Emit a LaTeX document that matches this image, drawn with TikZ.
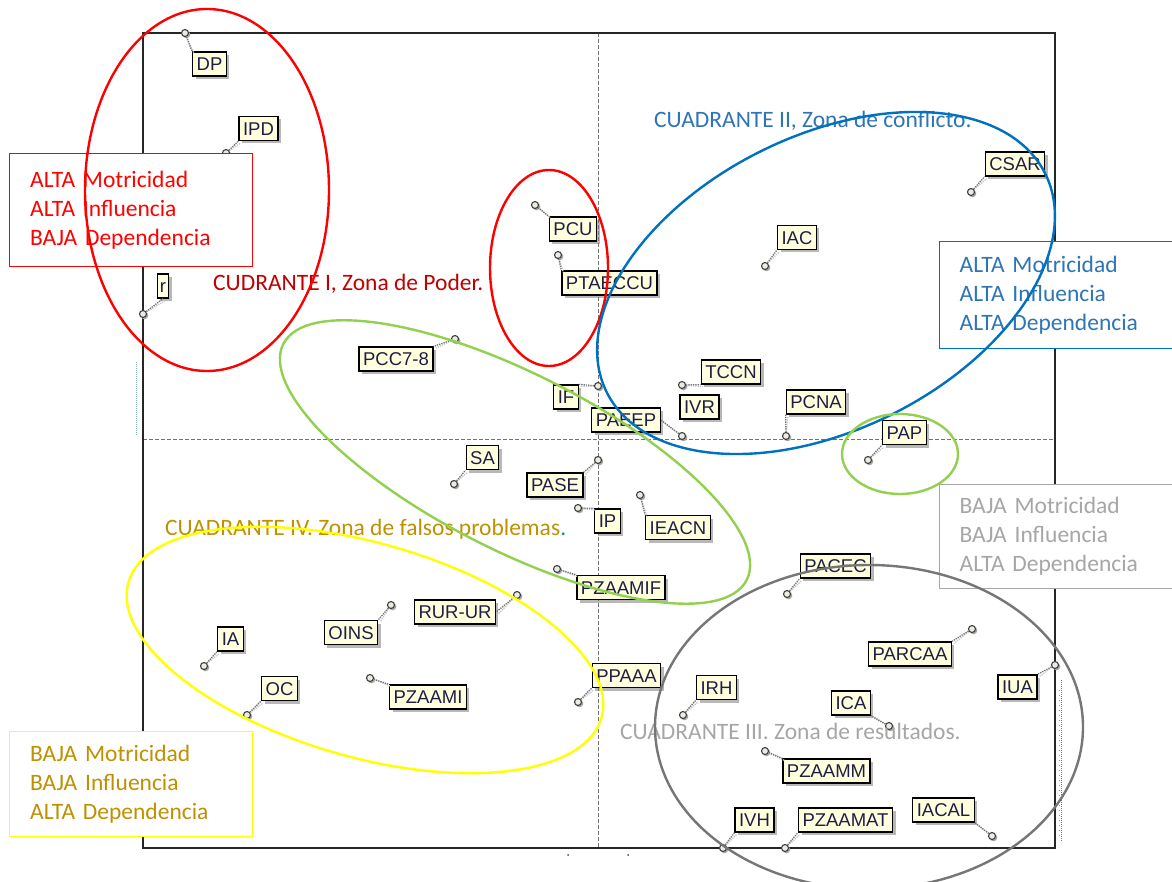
\documentclass[tikz,border=0pt]{standalone}
\usepackage{fontspec}
\setmainfont{Carlito}
\newfontfamily\arialf{Liberation Sans}
\usetikzlibrary{shadows}
\definecolor{cream}{RGB}{255,255,221}
\definecolor{lbltext}{RGB}{30,30,70}
\definecolor{redA}{RGB}{255,0,0}
\definecolor{redD}{RGB}{192,0,0}
\definecolor{blueE}{RGB}{0,112,192}
\definecolor{blueT}{RGB}{46,117,182}
\definecolor{greenE}{RGB}{146,208,80}
\definecolor{yellowE}{RGB}{255,255,0}
\definecolor{goldT}{RGB}{191,144,0}
\definecolor{grayE}{RGB}{118,118,118}
\definecolor{grayT}{RGB}{166,166,166}
\definecolor{tealdot}{RGB}{0,160,120}
\tikzset{
  lbl/.style={draw=black, line width=1.3pt, fill=cream, text=lbltext,
    font=\arialf\fontsize{18.5}{18.5}\selectfont, inner xsep=4pt, inner ysep=0pt,
    text height=13.5pt, text depth=0pt, minimum height=24pt,
    drop shadow={shadow xshift=3pt, shadow yshift=-3pt, fill=black!55, opacity=0.5}},
  pt/.style={circle, draw=black!75, line width=1.1pt, fill=cream!60!gray!40, inner sep=0pt, minimum size=7pt},
  lead/.style={densely dotted, line width=1.3pt, black!55},
  leadsh/.style={densely dotted, line width=1.3pt, black!22},
  axisline/.style={dashed, line width=0.8pt, black!55, dash pattern=on 4pt off 2pt},
  zonebox/.style={fill=white, line width=1.3pt, inner xsep=20.5pt, inner ysep=0pt,
    font=\fontsize{23.5}{29}\selectfont, anchor=north west},
  zonetxt/.style={font=\fontsize{23.5}{28}\selectfont, anchor=west, inner sep=0pt},
  zone/.style={line width=2.4pt}
}
\newcommand{\leader}[2]{%
  \draw[leadsh] ([shift={(2pt,-2pt)}]#1) -- ([shift={(2pt,-2pt)}]#2);
  \draw[lead] (#1) -- (#2);}
\begin{document}
\begin{tikzpicture}[x=1pt,y=-1pt]
\useasboundingbox (0,0) rectangle (1172,882);
\fill[white] (0,0) rectangle (1172,882);

% frame and the two axes
\draw[axisline] (598,33) -- (598,848);
\draw[axisline] (143,439) -- (1055,439);
\draw[line width=1.5pt, black!85] (143,33) rectangle (1055,848);
% small marks along the frame
\draw[blueT!60, densely dotted, line width=1pt] (136,362) -- (136,436);
\draw[redD!70, densely dotted, line width=1pt] (1061,680) -- (1061,842);
\draw[blueE!60, loosely dotted, line width=1pt] (1059,690) -- (1059,840);
\fill[black!70] (568,855) circle (1pt) (628,855) circle (1pt);

% variable points
\foreach \n/\x/\y in {DP/185/33, IPD/226/153, r/143/314, PCU/535/205, PTAECCU/558/255,
  PCC78/455/339, IF/598/386, PAEEP/682/436, TCCN/682/385, PCNA/786/436, PAP/868/460,
  CSAR/971/192, IAC/765/266, SA/454/484, PASE/598/460, IP/578/508, IEACN/640/495,
  PZAAMIF/557/569, RURUR/517/595, OINS/391/605, IA/204/666, OC/247/715, PZAAMI/370/678,
  PPAAA/578/702, IRH/683/715, PACEC/787/594, PARCAA/972/629, IUA/1055/665, ICA/889/726,
  PZAAMM/765/751, IVH/723/848, PZAAMAT/785/848, IACAL/992/836}
{
  \fill[black!35] (\x+1.5,\y+1.5) circle (3.8pt);
  \node[pt] (p\n) at (\x,\y) {};
}

% variable labels
\node[lbl] (DP) at (209.5,64) {DP};
\node[lbl] (IPD) at (258.5,128.5) {IPD};
\node[lbl, inner xsep=2.5pt] (r) at (163,286) {r};
\node[lbl] (PCU) at (573,229) {PCU};
\node[lbl] (PTAECCU) at (609.5,283) {PTAECCU};
\node[lbl] (PCC78) at (396,359) {PCC7-8};
\node[lbl] (IF) at (566,397) {IF};
\node[lbl] (PAEEP) at (626,420) {PAEEP};
\node[lbl] (TCCN) at (731,372) {TCCN};
\node[lbl] (IVR) at (699.5,407) {IVR};
\node[lbl] (PCNA) at (816,402) {PCNA};
\node[lbl] (PAP) at (904.5,432.5) {PAP};
\node[lbl] (CSAR) at (1015,164) {CSAR};
\node[lbl] (IAC) at (797,237.5) {IAC};
\node[lbl] (SA) at (482.5,457.5) {SA};
\node[lbl] (PASE) at (555,485) {PASE};
\node[lbl] (IP) at (607.5,521) {IP};
\node[lbl] (IEACN) at (678,527.5) {IEACN};
\node[lbl] (PZAAMIF) at (621,587.5) {PZAAMIF};
\node[lbl] (RURUR) at (455,612) {RUR-UR};
\node[lbl] (OINS) at (351,632.5) {OINS};
\node[lbl] (IA) at (230.5,639) {IA};
\node[lbl] (OC) at (279.5,688.5) {OC};
\node[lbl] (PZAAMI) at (428,697) {PZAAMI};
\node[lbl] (PPAAA) at (626.5,675.5) {PPAAA};
\node[lbl] (IRH) at (716.5,687.5) {IRH};
\node[lbl] (PACEC) at (835.5,566) {PACEC};
\node[lbl] (PARCAA) at (910,654) {PARCAA};
\node[lbl] (IUA) at (1017.5,687) {IUA};
\node[lbl] (ICA) at (851,703) {ICA};
\node[lbl] (PZAAMM) at (826.5,771) {PZAAMM};
\node[lbl] (IVH) at (754.5,820) {IVH};
\node[lbl] (PZAAMAT) at (845.5,820) {PZAAMAT};
\node[lbl] (IACAL) at (943.5,810) {IACAL};

% dotted leaders from each point to its label
\leader{pDP}{DP.north west}
\leader{pIPD}{IPD.south west}
\leader{pr}{r.south}
\leader{pPCU}{PCU.north west}
\leader{pPTAECCU}{PTAECCU.north west}
\leader{pPCC78}{PCC78.north east}
\leader{pIF}{IF.north east}
\leader{pPAEEP}{PAEEP.east}
\leader{pTCCN}{TCCN.south west}
\leader{pPCNA}{PCNA.south west}
\leader{pPAP}{PAP.south west}
\leader{pCSAR}{CSAR.south west}
\leader{pIAC}{IAC.south west}
\leader{pSA}{SA.south west}
\leader{pPASE}{PASE.north east}
\leader{pIP}{IP.north west}
\leader{pIEACN}{IEACN.north west}
\leader{pPZAAMIF}{PZAAMIF.north west}
\leader{pRURUR}{RURUR.east}
\leader{pOINS}{OINS.north east}
\leader{pIA}{IA.south west}
\leader{pOC}{OC.south west}
\leader{pPZAAMI}{PZAAMI.north west}
\leader{pPPAAA}{PPAAA.south west}
\leader{pIRH}{IRH.south west}
\leader{pPACEC}{PACEC.south west}
\leader{pPARCAA}{PARCAA.north east}
\leader{pIUA}{IUA.north east}
\leader{pICA}{ICA.south east}
\leader{pPZAAMM}{PZAAMM.north west}
\leader{pIVH}{IVH.south west}
\leader{pPZAAMAT}{PZAAMAT.south west}
\leader{pIACAL}{IACAL.south east}

% legend boxes of the quadrants
\node[zonebox, draw=redA, text=redA, text width=202pt, minimum height=113pt] (bI) at (9,153)
  {ALTA Motricidad\\ALTA Influencia\\BAJA Dependencia};
\node[zonebox, inner xsep=20pt, draw=blueE, text=blueT, text width=200pt, minimum height=107pt] (bII) at (939,241)
  {ALTA Motricidad\\ALTA Influencia\\ALTA Dependencia};
\node[zonebox, inner xsep=20pt, draw=grayT, text=grayT, text width=200pt, minimum height=104pt] (bIII) at (939,484)
  {BAJA Motricidad\\BAJA Influencia\\ALTA Dependencia};
\node[zonebox, draw=yellowE, text=goldT, text width=202pt, minimum height=105pt] (bIV) at (9,731)
  {BAJA Motricidad\\BAJA Influencia\\ALTA Dependencia};

% quadrant titles
\node[zonetxt, text=blueT] (tII) at (654,121) {CUADRANTE II, Zona de conflicto.};
\node[zonetxt, text=redD] (tI) at (213,284) {CUDRANTE I, Zona de Poder.};
\node[zonetxt, text=goldT] (tIV) at (165,529) {CUADRANTE IV. Zona de falsos problemas\textcolor{tealdot}{.}};
\node[zonetxt, text=grayT] (tIII) at (620,731) {CUADRANTE III. Zona de resultados.};

% grouping ellipses
\draw[zone, redA] (207,190) ellipse [x radius=122pt, y radius=181pt];
\draw[zone, redA] (549,268) ellipse [x radius=59pt, y radius=98pt];
\draw[zone, blueE, rotate around={26.5:(826,283)}] (826,283) ellipse [x radius=245pt, y radius=147pt];
\draw[zone, greenE, rotate around={-27:(515,462)}] (515,462) ellipse [x radius=260pt, y radius=88pt];
\draw[zone, greenE] (900,454) ellipse [x radius=58pt, y radius=40pt];
\draw[zone, yellowE, rotate around={-16:(365,650)}] (365,650) ellipse [x radius=246pt, y radius=107pt];
\draw[zone, grayE] (869,727) ellipse [x radius=214pt, y radius=162pt];
\end{tikzpicture}
\end{document}
